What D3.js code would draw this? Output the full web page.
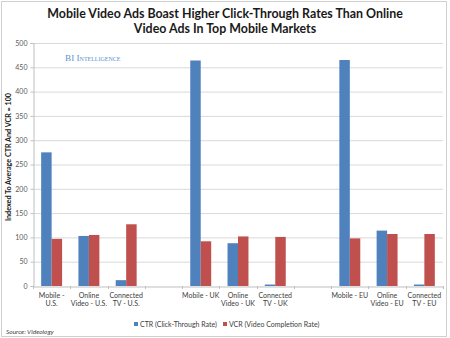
<!DOCTYPE html>
<html>
<head>
<meta charset="utf-8">
<script src="https://cdn.jsdelivr.net/npm/d3@7"></script>
<style>
  html, body { margin: 0; padding: 0; background: #fff; }
  svg { display: block; }
</style>
</head>
<body>
<svg id="chart" width="450" height="338"></svg>
<script>
// Category slots (empty strings are spacer slots between markets)
const categories = [
  "Mobile -|U.S.", "Online|Video - U.S.", "Connected|TV - U.S.", "",
  "Mobile - UK", "Online|Video - UK", "Connected|TV - UK", "",
  "Mobile - EU", "Online|Video - EU", "Connected|TV - EU"
];
const ctrValues = [275, 103, 12, null, 464, 88, 3, null, 465, 114, 3];
const vcrValues = [97, 105, 127, null, 92, 102, 101, null, 98, 107, 107];
const seriesNames = ["CTR (Click-Through Rate)", "VCR (Video Completion Rate)"];
const yTicks = [0, 50, 100, 150, 200, 250, 300, 350, 400, 450, 500];

const colors = ["#4f81bd", "#c0504d"];
const svg = d3.select("#chart");
const W = 450, H = 338;
const margin = { left: 33, right: 7, top: 43, bottom: 52 };
const font = "Lato, 'Open Sans', sans-serif";

// outer frame
svg.append("rect").attr("x", 1.5).attr("y", 1.5).attr("width", W - 5).attr("height", H - 3)
  .attr("fill", "#fff").attr("stroke", "#d0d0d0");

// title
const title = svg.append("text").attr("text-anchor", "middle")
  .attr("font-family", font).attr("font-weight", "bold")
  .attr("font-size", 12.4).attr("fill", "#1a1a1a");
title.append("tspan").attr("x", 225).attr("y", 18).text("Mobile Video Ads Boast Higher Click-Through Rates Than Online");
title.append("tspan").attr("x", 225).attr("y", 33).text("Video Ads In Top Mobile Markets");

const x = d3.scaleBand().domain(d3.range(categories.length))
  .range([margin.left, W - margin.right]).paddingInner(0).paddingOuter(0);
const y = d3.scaleLinear().domain([0, 500]).range([H - margin.bottom, margin.top]);
const sub = d3.scaleBand().domain([0, 1]).range([0, x.bandwidth()]).paddingOuter(0.78).paddingInner(0);

// gridlines
svg.append("g").selectAll("line").data(yTicks.filter(d => d > 0)).join("line")
  .attr("x1", margin.left).attr("x2", W - margin.right)
  .attr("y1", d => y(d) + 0.5).attr("y2", d => y(d) + 0.5)
  .attr("stroke", "#d9d9d9").attr("stroke-width", 1);

// watermark
svg.append("text").attr("x", 65).attr("y", 60.5)
  .attr("font-family", "'Liberation Serif', 'DejaVu Serif', serif")
  .attr("font-size", 9.2).attr("font-variant", "small-caps")
  .attr("fill", "#5b95cf").text("BI Intelligence");

// y axis
const yAxis = d3.axisLeft(y).tickValues(yTicks).tickSize(3).tickPadding(3);
const gy = svg.append("g").attr("transform", `translate(${margin.left + 0.5},0)`).call(yAxis);
gy.select(".domain").attr("stroke", "#bfbfbf");
gy.selectAll(".tick line").attr("stroke", "#bfbfbf");
gy.selectAll(".tick text").attr("font-family", font)
  .attr("font-size", 7).attr("fill", "#595959");

svg.append("text")
  .attr("transform", `translate(10.5,157) rotate(-90)`)
  .attr("text-anchor", "middle").attr("font-family", font)
  .attr("font-weight", "bold").attr("font-size", 7.2).attr("fill", "#1a1a1a")
  .text("Indexed To Average CTR And VCR = 100");

// bars
const rows = categories.map((c, i) => ({ i, vals: [ctrValues[i], vcrValues[i]] }));
const groups = svg.append("g").selectAll("g").data(rows).join("g")
  .attr("transform", d => `translate(${x(d.i)},0)`);
groups.selectAll("rect").data(d => d.vals.map((v, s) => ({ v, s })).filter(e => e.v != null)).join("rect")
  .attr("x", e => sub(e.s)).attr("width", sub.bandwidth())
  .attr("y", e => y(e.v)).attr("height", e => y(0) - y(e.v))
  .attr("fill", e => colors[e.s]);

// x axis
const xAxis = d3.axisBottom(x).tickSize(0).tickFormat("");
const gx = svg.append("g").attr("transform", `translate(0,${y(0) + 0.5})`).call(xAxis);
gx.select(".domain").attr("stroke", "#bfbfbf");
// small ticks at slot boundaries
svg.append("g").selectAll("line").data(d3.range(categories.length + 1)).join("line")
  .attr("x1", i => Math.round(margin.left + i * x.step()) + 0.5)
  .attr("x2", i => Math.round(margin.left + i * x.step()) + 0.5)
  .attr("y1", y(0)).attr("y2", y(0) + 3).attr("stroke", "#bfbfbf");

// category labels
const labels = svg.append("g").selectAll("text").data(rows.filter(d => categories[d.i])).join("text")
  .attr("text-anchor", "middle").attr("font-family", font)
  .attr("font-size", 7).attr("fill", "#404040");
labels.each(function (d) {
  const parts = categories[d.i].split("|");
  parts.forEach((p, k) => d3.select(this).append("tspan")
    .attr("x", x(d.i) + x.bandwidth() / 2).attr("y", 297.5 + k * 8.5).text(p));
});

// legend
const legendX = [134, 223];
seriesNames.forEach((name, s) => {
  svg.append("rect").attr("x", legendX[s]).attr("y", 322).attr("width", 4).attr("height", 4)
    .attr("fill", colors[s]);
  svg.append("text").attr("x", legendX[s] + 6).attr("y", 327)
    .attr("font-family", font).attr("font-size", 7).attr("fill", "#404040")
    .text(name);
});

// source
svg.append("text").attr("x", 6).attr("y", 334).attr("font-family", font)
  .attr("font-size", 6.5).attr("font-style", "italic").attr("fill", "#404040").text("Source: Videology");
</script>
</body>
</html>
